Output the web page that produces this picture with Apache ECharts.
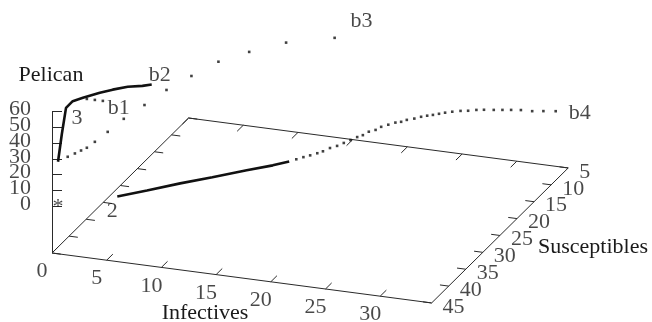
<!DOCTYPE html>
<html><head><meta charset="utf-8">
<script src="https://cdn.jsdelivr.net/npm/echarts@6/dist/echarts.min.js"></script>
<style>html,body{margin:0;padding:0;background:#fff}#c{width:652px;height:322px}</style>
</head><body><div id="c"></div>
<script>
// ---------- axes ----------
const infectiveTicks = [0, 5, 10, 15, 20, 25, 30];
const susceptibleTicks = [5, 10, 15, 20, 25, 30, 35, 40, 45];
const pelicanTicks = [0, 10, 20, 30, 40, 50, 60];
const infectiveRange = [0, 34.7];
const susceptibleRange = [5, 45];
const pelicanRange = [0, 60];
const pelicanBase = -30;   // z level of the base plane

// ---------- trajectory from "2" (pelican-free plane) ----------
const traj2SolidI = [4.5, 6.4, 8.5, 10.6, 12.8, 14.5, 15.5];
const traj2SolidS = [40.3, 37.7, 34.7, 32.0, 29.0, 26.8, 25.2];
const traj2SolidP = [0, 0, 0, 0, 0, 0, 0];
const traj2DotI = [15.9,16.3,16.7,17.1,17.4,17.7,18.1,18.4,18.7,19.0,19.3,19.5,19.9,20.1,20.5,20.9,21.3,21.6,22.1,22.5,22.9,23.3,23.7,24.1,24.6,25.2,25.8,26.4,27.0,27.8,28.5,29.2,30.0,31.0,31.9,32.9];
const traj2DotS = [24.4,23.6,22.9,22.1,21.4,20.3,19.5,18.5,17.5,16.5,15.8,14.7,14.0,13.0,12.2,11.4,11.0,10.3,9.7,9.0,8.5,8.1,7.6,7.1,6.6,6.1,5.8,5.3,5.0,4.7,4.4,4.1,3.8,3.7,3.3,2.9];
const traj2DotP = traj2DotI.map(() => 0);

// ---------- trajectory through "3" (with pelicans) ----------
const traj3I = [0.3, 0.4, 0.5, 0.8, 1.2, 2.0, 2.8, 3.8, 4.8, 5.4];
const traj3S = [44.2, 43.4, 42.5, 41.5, 39.8, 37.4, 36.2, 35.0, 33.9, 33.1];
const traj3P = [26.7, 42.7, 57.5, 59.9, 58.8, 57.6, 57.7, 57.9, 57.0, 56.7];

// ---------- dotted trajectory to b3 ----------
const trajB3I = [0.5, 1.0, 1.5, 2.0, 2.7, 3.5, 4.5, 5.8, 7.0, 8.5, 10, 12, 14, 17];
const trajB3S = [42.0, 41.5, 41.3, 41.2, 41.1, 39.9, 38.4, 36.5, 33.9, 31.4, 28.3, 25.7, 21.3, 16.7];
const trajB3P = [25.3, 26.8, 28.7, 30.7, 34.9, 39.4, 45.4, 51.3, 56.4, 61.3, 65.1, 67.6, 65.9, 61.8];

// ---------- dotted approach to b1 ----------
const trajB1I = [1.5, 2.2, 2.9];
const trajB1S = [39.6, 39.5, 39.4];
const trajB1P = [57.9, 57.7, 57.5];

// ---------- projection (gnuplot-like fixed view) ----------
const O = [52, 253], eI = [10.94, 1.44], eS = [3.415, -3.375], eZ = [0, -1.57];
function proj(i, s, p) {
  const u = susceptibleRange[1] - s, w = p - pelicanBase;
  return [O[0] + i * eI[0] + u * eS[0] + w * eZ[0], O[1] + i * eI[1] + u * eS[1] + w * eZ[1]];
}
function path(I, S, P) { return I.map((v, k) => proj(v, S[k], P[k])); }

const FONT = 'Liberation Serif';
const FS = 22;
const TXT = '#1a1a1a';
const AX = '#2a2a2a';

const Imax = infectiveRange[1], Smin = susceptibleRange[0], Smax = susceptibleRange[1];
const segs = [];
const c00 = proj(0, Smax, pelicanBase), c10 = proj(Imax, Smax, pelicanBase),
      c11 = proj(Imax, Smin, pelicanBase), c01 = proj(0, Smin, pelicanBase);
segs.push([c00, c10], [c10, c11], [c11, c01], [c01, c00]);
segs.push([c00, proj(0, Smax, pelicanRange[1])]);
infectiveTicks.forEach(t => {
  segs.push([proj(t, Smax, pelicanBase), proj(t, Smax - 1.8, pelicanBase)]);
  segs.push([proj(t, Smin, pelicanBase), proj(t, Smin + 1.8, pelicanBase)]);
});
susceptibleTicks.forEach(s => {
  segs.push([proj(0, s, pelicanBase), proj(0.8, s, pelicanBase)]);
  segs.push([proj(Imax, s, pelicanBase), proj(Imax - 0.8, s, pelicanBase)]);
});
pelicanTicks.forEach(p => {
  const a = proj(0, Smax, p);
  segs.push([a, [a[0] + 10, a[1]]]);
});

function lbl(pt, text, offset, align) {
  return { value: pt, name: text, label: { offset: offset, align: align || 'center' } };
}
const labels = [];
infectiveTicks.forEach(t => labels.push(lbl(proj(t, Smax, pelicanBase), String(t), [-10, 18.5])));
susceptibleTicks.forEach(s => labels.push(lbl(proj(Imax, s, pelicanBase), String(s), [11, 4], 'left')));
pelicanTicks.forEach(p => labels.push(lbl(proj(0, Smax, p), String(p), [-21, -2], 'right')));

const t2s = path(traj2SolidI, traj2SolidS, traj2SolidP);
const t2d = path(traj2DotI, traj2DotS, traj2DotP);
const t3 = path(traj3I, traj3S, traj3P);
const tb3 = path(trajB3I, trajB3S, trajB3P);
const tb1 = path(trajB1I, trajB1S, trajB1P);

labels.push(lbl(t2s[0], '2', [-5, 15]));
labels.push(lbl(t3[2], '3', [11, 10]));
labels.push(lbl(tb1[tb1.length - 1], 'b1', [16, 7]));
labels.push(lbl(t3[t3.length - 1], 'b2', [8, -9]));
labels.push(lbl(tb3[tb3.length - 1], 'b3', [27, -17]));
labels.push(lbl(t2d[t2d.length - 1], 'b4', [24, 2]));
labels.push(lbl(proj(0, Smax, 0), '*', [6, 1]));

const chart = echarts.init(document.getElementById('c'));
chart.setOption({
  animation: false,
  backgroundColor: '#fff',
  grid: { left: 0, right: 0, top: 0, bottom: 0 },
  xAxis: { type: 'value', min: 0, max: 652, show: false },
  yAxis: { type: 'value', min: 0, max: 322, inverse: true, show: false },
  graphic: [
    { type: 'text', x: 51, y: 75, style: { text: 'Pelican', font: FS + 'px "' + FONT + '"', fill: TXT, align: 'center', verticalAlign: 'middle', textAlign: 'center', textVerticalAlign: 'middle' } },
    { type: 'text', x: 205, y: 313, style: { text: 'Infectives', font: FS + 'px "' + FONT + '"', fill: TXT, align: 'center', verticalAlign: 'middle', textAlign: 'center', textVerticalAlign: 'middle' } },
    { type: 'text', x: 538, y: 247, style: { text: 'Susceptibles', font: FS + 'px "' + FONT + '"', fill: TXT, align: 'left', verticalAlign: 'middle', textAlign: 'left', textVerticalAlign: 'middle' } }
  ],
  series: [
    { type: 'lines', coordinateSystem: 'cartesian2d', silent: true,
      lineStyle: { color: AX, width: 1, opacity: 1 },
      data: segs.map(s => ({ coords: s })) },
    { type: 'line', data: t2s, symbol: 'none', lineStyle: { color: '#111', width: 2.6 } },
    { type: 'line', data: t3, symbol: 'none', lineStyle: { color: '#111', width: 2.6 } },
    { type: 'scatter', data: t2d.concat(tb3, tb1), symbol: 'rect', symbolSize: 2.6, itemStyle: { color: '#111' } },
    { type: 'scatter', data: labels, symbolSize: 0.1, itemStyle: { color: 'rgba(0,0,0,0)' },
      label: { show: true, position: 'inside', verticalAlign: 'middle', formatter: p => p.name,
               fontFamily: FONT, fontSize: FS, color: TXT } }
  ]
});
</script></body></html>
